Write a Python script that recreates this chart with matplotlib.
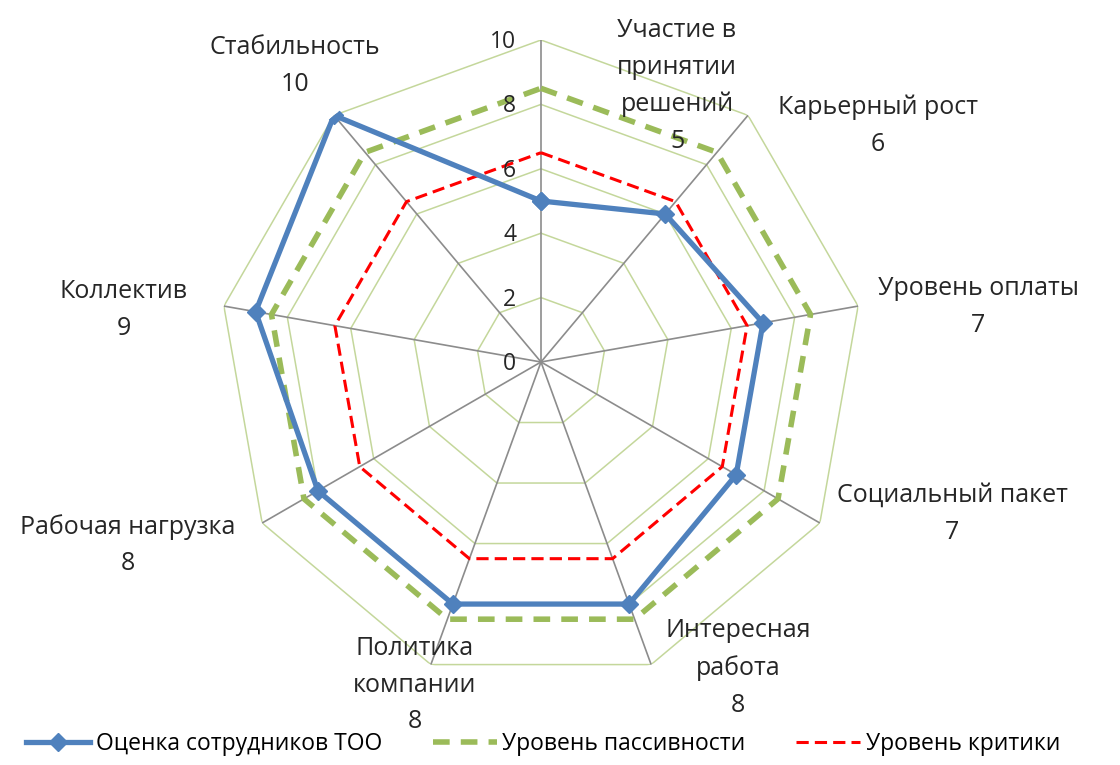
import numpy as np
import matplotlib
matplotlib.use("Agg")
from matplotlib import pyplot as plt
from matplotlib.lines import Line2D

plt.rcParams['font.family'] = ['Open Sans', 'DejaVu Sans']

categories = ['Участие в\nпринятии\nрешений', 'Карьерный рост', 'Уровень оплаты',
              'Социальный пакет', 'Интересная\nработа', 'Политика\nкомпании',
              'Рабочая нагрузка', 'Коллектив', 'Стабильность']
employees = [5, 6, 7, 7, 8, 8, 8, 9, 10]
passivity = [8.5] * 9
critique = [6.5] * 9
ticks = [0, 2, 4, 6, 8, 10]

# label centres in pixels (x, y from top) for the category captions
label_pos = [(677, 86), (878, 126), (978, 307), (952, 514), (738, 668),
             (415, 685), (128, 545), (124, 310), (295, 66)]

W, H = 1120, 765
fig = plt.figure(figsize=(W / 100, H / 100), dpi=100)
cx, cy, R = 541, 362, 322
ax = fig.add_axes([(cx - R) / W, (H - cy - R) / H, 2 * R / W, 2 * R / H], projection='polar')
ax.set_theta_zero_location('N')
ax.set_theta_direction(-1)
ax.set_ylim(0, 10)
ax.grid(False)
ax.spines['polar'].set_visible(False)
ax.set_xticks([])
ax.set_yticks([])
ax.patch.set_alpha(0)

n = len(categories)
ang = np.arange(n) * 2 * np.pi / n
closed = np.append(ang, ang[0])

def loop(vals):
    return np.append(vals, vals[0])

# polygon grid and spokes
for t in ticks[1:]:
    ax.plot(closed, [t] * (n + 1), color='#C4D79B', lw=1.1, zorder=1)
for a in ang:
    ax.plot([a, a], [0, 10], color='#8C8C8C', lw=1.2, zorder=1)

ax.plot(closed, loop(passivity), color='#9BBB59', lw=4, ls=(0, (3, 2)), zorder=2)
ax.plot(closed, loop(critique), color='#FF0000', lw=2.2, ls=(0, (4, 2)), zorder=3)
ax.plot(closed, loop(employees), color='#4F81BD', lw=3.8, marker='D', ms=9, zorder=4)

for t in ticks:
    ax.annotate(str(t), xy=(0, t), xytext=(-25, -2), textcoords='offset pixels',
                ha='right', va='center', fontsize=16.5, color='#262626')

for name, v, (px, py) in zip(categories, employees, label_pos):
    fig.text(px / W, 1 - py / H, name + '\n' + str(v), ha='center', va='center',
             fontsize=18, color='#262626', linespacing=1.62)

handles = [Line2D([], [], color='#4F81BD', lw=3.8, marker='D', ms=9),
           Line2D([], [], color='#9BBB59', lw=4, ls=(0, (3, 2))),
           Line2D([], [], color='#FF0000', lw=2.2, ls=(0, (4, 2)))]
labels = ['Оценка сотрудников ТОО', 'Уровень пассивности', 'Уровень критики']
fig.legend(handles, labels, loc='center', bbox_to_anchor=(0.485, 1 - 744 / H), ncol=3,
           frameon=False, fontsize=16.5, handlelength=2.8, columnspacing=2.2, handletextpad=0.25)

fig.savefig('out.png', dpi=100)
